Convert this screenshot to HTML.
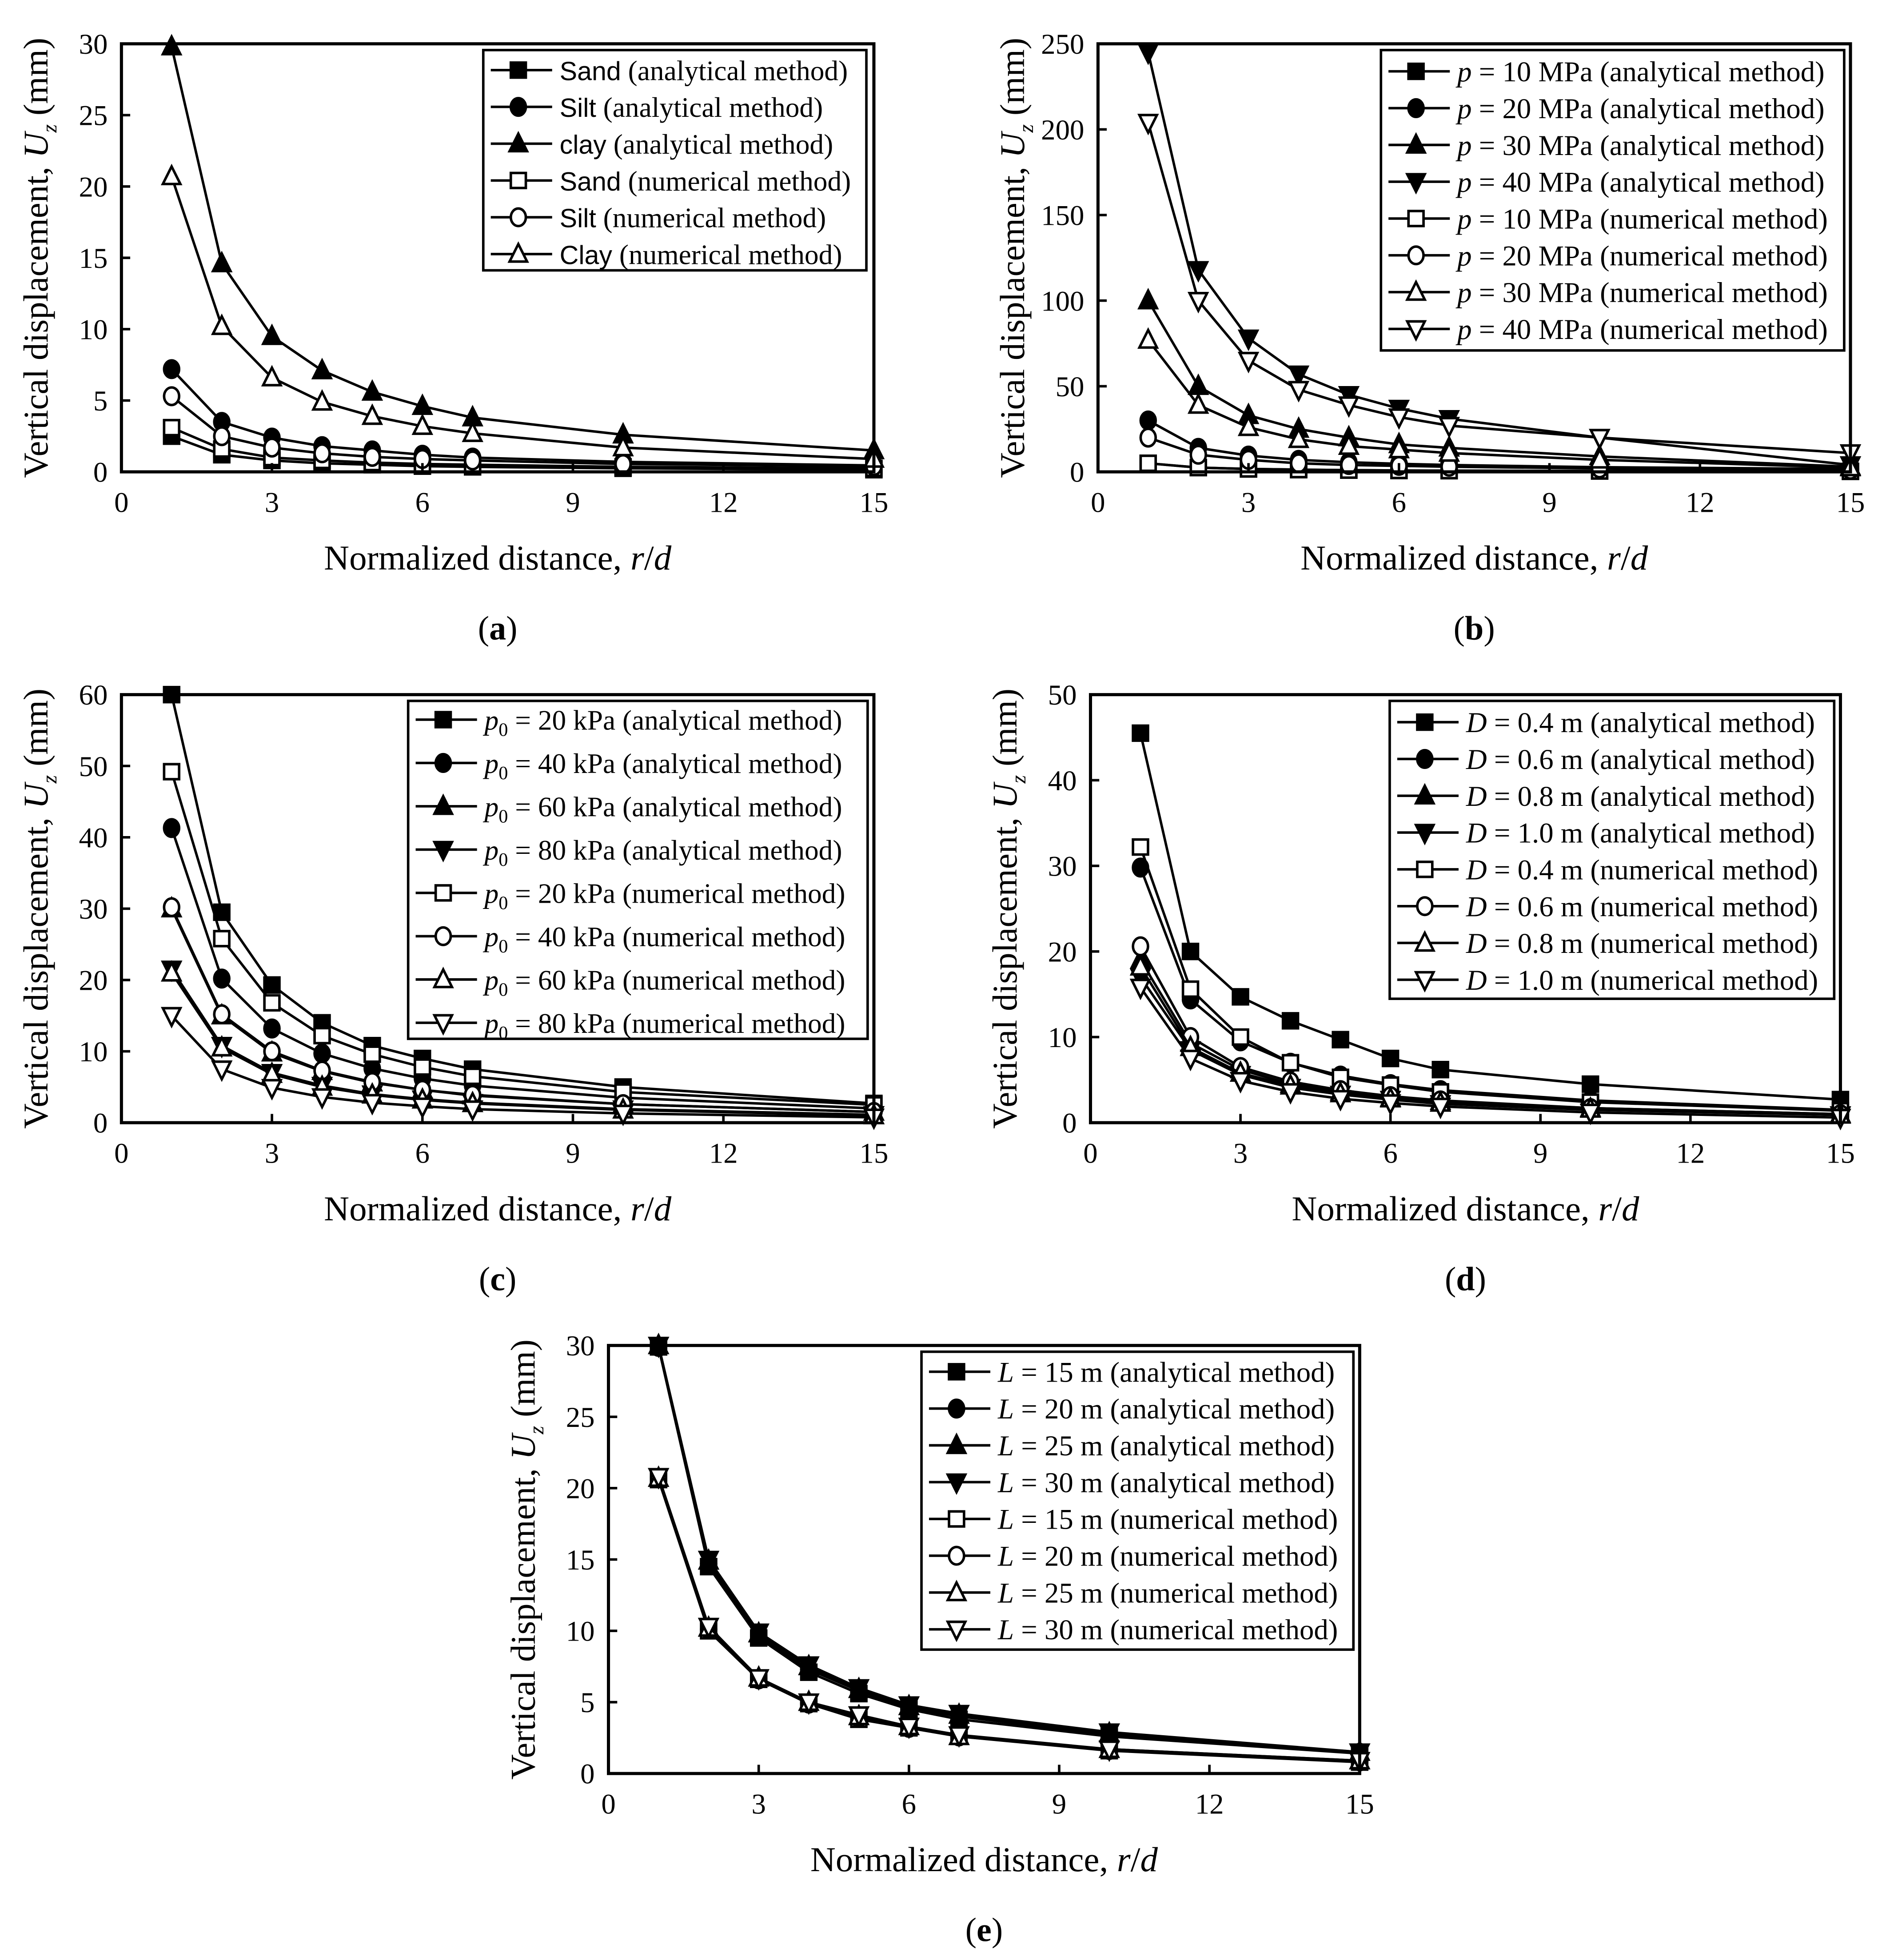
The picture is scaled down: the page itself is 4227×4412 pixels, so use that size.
<!DOCTYPE html>
<html><head><meta charset="utf-8"><style>
html,body{margin:0;padding:0;background:#fff}
svg{display:block}
text{font-family:"Liberation Serif",serif;fill:#000}
</style></head><body>
<svg id="fig" width="4227" height="4412" viewBox="0 0 1500 1566" preserveAspectRatio="none" xmlns="http://www.w3.org/2000/svg"></svg>
<script>
const xs=[1,2,3,4,5,6,7,10,15];
const xTicks=[0,3,6,9,12,15];
// (a)
const aNames=["Sand (analytical method)","Silt (analytical method)","clay (analytical method)","Sand (numerical method)","Silt (numerical method)","Clay (numerical method)"];
const aSand=[2.5,1.2,0.8,0.6,0.5,0.4,0.35,0.25,0.15];
const aSilt=[7.2,3.5,2.4,1.8,1.5,1.2,1.0,0.7,0.45];
const aClay=[29.8,14.6,9.5,7.1,5.6,4.6,3.8,2.6,1.5];
const nSand=[3.1,1.6,1.0,0.8,0.65,0.55,0.5,0.35,0.25];
const nSilt=[5.3,2.5,1.7,1.3,1.05,0.9,0.8,0.55,0.4];
const nClay=[20.7,10.2,6.6,4.9,3.9,3.2,2.7,1.7,0.9];
const aTicks=[0,5,10,15,20,25,30];
// (b)
const bLabels=["10","20","30","40","10","20","30","40"];
const bP10a=[5,2.5,1.7,1.3,1,0.8,0.7,0.5,0.3];
const bP20a=[30,14,9.5,7,5.6,4.7,4,2.7,1.7];
const bP30a=[100,50,33,25,20,16,14,9,3];
const bP40a=[245,118,78,57,45,37,31,20,4];
const bP10n=[5,2.5,1.7,1.3,1,0.8,0.7,0.5,0.3];
const bP20n=[20,10,7,5,4,3.5,3,2,1.2];
const bP30n=[77,39,26,19,15,13,11,7,2.5];
const bP40n=[204,100,65,48,39,32,27,20,11];
const bTicks=[0,50,100,150,200,250];
// (c)
const cLabels=["20","40","60","80","20","40","60","80"];
const c20a=[60,29.5,19.3,14,10.8,9,7.5,5,2.7];
const c40a=[41.3,20.2,13.2,9.7,7.6,6.2,5.2,3.5,2.0];
const c60a=[30,15,9.8,7.2,5.6,4.6,3.8,2.6,1.5];
const c80a=[21.5,10.8,7,5.2,4,3.3,2.8,1.9,1.1];
const c20n=[49.2,25.8,16.8,12.2,9.6,7.8,6.5,4.3,2.5];
const c40n=[30.2,15.2,10,7.3,5.7,4.6,3.9,2.6,1.5];
const c60n=[21,10.5,6.8,5,3.9,3.2,2.7,1.8,1.0];
const c80n=[15,7.5,4.9,3.6,2.8,2.3,1.9,1.3,0.75];
const cTicks=[0,10,20,30,40,50,60];
// (d)
const dLabels=["0.4","0.6","0.8","1.0","0.4","0.6","0.8","1.0"];
const d04a=[45.5,20,14.7,11.9,9.7,7.5,6.2,4.5,2.7];
const d06a=[29.8,14.4,9.5,7,5.5,4.5,3.8,2.6,1.5];
const d08a=[19,9.3,6.2,4.5,3.6,2.9,2.5,1.7,1.0];
const d10a=[17,8.5,5.6,4.1,3.3,2.7,2.2,1.5,0.9];
const d04n=[32.2,15.6,10,7,5.3,4.4,3.6,2.4,1.4];
const d06n=[20.6,10,6.5,4.8,3.8,3.1,2.6,1.7,1.0];
const d08n=[18.2,8.8,5.8,4.3,3.4,2.8,2.3,1.6,0.9];
const d10n=[15.8,7.5,4.9,3.6,2.8,2.3,1.9,1.2,0.6];
const dTicks=[0,10,20,30,40,50];
// (e)
const eLabels=["15","20","25","30","15","20","25","30"];
const e15a=[29.9,14.5,9.5,7.1,5.6,4.5,3.8,2.6,1.4];
const e20a=[29.9,14.7,9.6,7.3,5.8,4.6,4.0,2.7,1.45];
const e25a=[30,14.9,9.8,7.5,5.9,4.7,4.1,2.8,1.5];
const e30a=[30,15,9.9,7.6,6.0,4.8,4.2,2.9,1.5];
const e15n=[20.6,10.0,6.6,4.9,3.8,3.2,2.6,1.6,0.8];
const e20n=[20.7,10.1,6.6,4.9,3.9,3.2,2.6,1.65,0.85];
const e25n=[20.7,10.2,6.7,5.0,4.0,3.3,2.6,1.7,0.9];
const e30n=[20.8,10.3,6.7,5.0,4.1,3.3,2.7,1.7,0.9];
const eTicks=[0,5,10,15,20,25,30];

const NS="http://www.w3.org/2000/svg";
const svg=document.getElementById('fig');
function mk(tag,attrs,parent){const e=document.createElementNS(NS,tag);for(const k in attrs)e.setAttribute(k,attrs[k]);(parent||svg).appendChild(e);return e;}
const markers=["sq","ci","tu","td"];
function marker(g,type,filled,x,y){
  const f=filled?"#000":"#fff",s={stroke:"#000","stroke-width":2,fill:f};let e;
  if(type==="sq")e=mk('rect',Object.assign({x:x-6,y:y-6,width:12,height:12},s),g);
  else if(type==="ci")e=mk('ellipse',Object.assign({cx:x,cy:y,rx:6,ry:7},s),g);
  else if(type==="tu")e=mk('polygon',Object.assign({points:`${x},${y-8} ${x-7},${y+6} ${x+7},${y+6}`},s),g);
  else e=mk('polygon',Object.assign({points:`${x},${y+8} ${x-7},${y-6} ${x+7},${y-6}`},s),g);
  
  
}
function panel(o){
  const g=mk('g',{});
  
  
  const X=v=>o.x0+(o.x1-o.x0)*v/15, Y=v=>o.y1-(o.y1-o.y0)*v/o.ymax;
  o.series.forEach((s,i)=>{
    const sg=mk('g',{},g);
    
    
    const p=mk('polyline',{points:xs.map((x,j)=>X(x)+","+Y(s.d[j])).join(" "),fill:"none",stroke:"#000","stroke-width":2},sg);
    
    
    xs.forEach((x,j)=>marker(sg,s.m,s.f,X(x),Y(s.d[j])));
  });
  const fr=mk('rect',{x:o.x0,y:o.y0,width:o.x1-o.x0,height:o.y1-o.y0,fill:"none",stroke:"#000","stroke-width":2.5},g);
  
  
  o.yticks.forEach(t=>{
    mk('line',{x1:o.x0,x2:o.x0+7,y1:Y(t),y2:Y(t),stroke:"#000","stroke-width":2},g);
    const tx=mk('text',{x:o.x0-11,y:Y(t)+8,"font-size":23,"text-anchor":"end"},g);tx.textContent=t;
    
    
  });
  xTicks.forEach(t=>{
    mk('line',{x1:X(t),x2:X(t),y1:o.y1,y2:o.y1-7,stroke:"#000","stroke-width":2},g);
    const tx=mk('text',{x:X(t),y:o.y1+32,"font-size":23,"text-anchor":"middle"},g);tx.textContent=t;
    
    
  });
  const xt=mk('text',{x:(o.x0+o.x1)/2,y:o.y1+78,"font-size":28,"text-anchor":"middle"},g);
  xt.innerHTML='Normalized distance, <tspan font-style="italic">r</tspan>/<tspan font-style="italic">d</tspan>';
  
  
  const yt=mk('text',{transform:`translate(${o.x0-59},${(o.y0+o.y1)/2}) rotate(-90)`,"font-size":28,"text-anchor":"middle"},g);
  yt.innerHTML='Vertical displacement, <tspan font-style="italic">U</tspan><tspan font-style="italic" font-size="17" dy="7">z</tspan><tspan dy="-7"> (mm)</tspan>';
  
  
  const pl=mk('text',{x:(o.x0+o.x1)/2,y:o.y1+134,"font-size":27,"text-anchor":"middle"},g);
  pl.innerHTML='(<tspan font-weight="bold">'+o.tag+'</tspan>)';
  
  
  const L=o.leg;
  const lg=mk('g',{},g);
  
  
  mk('rect',{x:L.x,y:L.y,width:L.w,height:L.h,fill:"#fff",stroke:"#000","stroke-width":2},lg);
  o.series.forEach((s,i)=>{
    const yy=L.r0+i*L.dy;
    const eg=mk('g',{},lg);
    
    
    mk('line',{x1:L.x+6,x2:L.x+55,y1:yy,y2:yy,stroke:"#000","stroke-width":2},eg);
    marker(eg,s.m,s.f,L.x+28,yy);
    const t=mk('text',{x:L.x+61,y:yy+8,"font-size":L.fs||23},eg);
    t.innerHTML=s.label;
  });
}
const ttl=(v,a)=>a?" (analytical method)":" (numerical method)";
panel({name:"panel-a",tag:"a",x0:97,x1:698,y0:35,y1:377,ymax:30,yticks:aTicks,
 leg:{x:386,y:40,w:306,h:176,r0:56,dy:29.4,fs:22.5},
 series:[[aSand,"sq",1],[aSilt,"ci",1],[aClay,"tu",1],[nSand,"sq",0],[nSilt,"ci",0],[nClay,"tu",0]].map((s,i)=>({d:s[0],m:s[1],f:s[2],label:'<tspan font-family="Liberation Sans,sans-serif" font-size="21">'+aNames[i].split(" ")[0]+'</tspan> '+aNames[i].split(" ").slice(1).join(" ")}))});
panel({name:"panel-b",tag:"b",x0:877,x1:1478,y0:35,y1:377,ymax:250,yticks:bTicks,
 leg:{x:1103,y:40,w:370,h:240,r0:57,dy:29.4},
 series:[bP10a,bP20a,bP30a,bP40a,bP10n,bP20n,bP30n,bP40n].map((d,i)=>({d,m:markers[i%4],f:i<4,label:'<tspan font-style="italic">p</tspan> = '+bLabels[i]+' MPa'+ttl(0,i<4)}))});
panel({name:"panel-c",tag:"c",x0:97,x1:698,y0:555,y1:897,ymax:60,yticks:cTicks,
 leg:{x:326,y:560,w:367,h:270,r0:575,dy:34.6,fs:22.5},
 series:[c20a,c40a,c60a,c80a,c20n,c40n,c60n,c80n].map((d,i)=>({d,m:markers[i%4],f:i<4,label:'<tspan font-style="italic">p</tspan><tspan font-size="15" dy="5">0</tspan><tspan dy="-5"> = '+cLabels[i]+' kPa'+ttl(0,i<4)+'</tspan>'}))});
panel({name:"panel-d",tag:"d",x0:871,x1:1470,y0:555,y1:897,ymax:50,yticks:dTicks,
 leg:{x:1110,y:560,w:355,h:238,r0:577,dy:29.4},
 series:[d04a,d06a,d08a,d10a,d04n,d06n,d08n,d10n].map((d,i)=>({d,m:markers[i%4],f:i<4,label:'<tspan font-style="italic">D</tspan> = '+dLabels[i]+' m'+ttl(0,i<4)}))});
panel({name:"panel-e",tag:"e",x0:486,x1:1086,y0:1075,y1:1417,ymax:30,yticks:eTicks,
 leg:{x:736,y:1080,w:345,h:238,r0:1096,dy:29.4},
 series:[e15a,e20a,e25a,e30a,e15n,e20n,e25n,e30n].map((d,i)=>({d,m:markers[i%4],f:i<4,label:'<tspan font-style="italic">L</tspan> = '+eLabels[i]+' m'+ttl(0,i<4)}))});
</script>
</body></html>
